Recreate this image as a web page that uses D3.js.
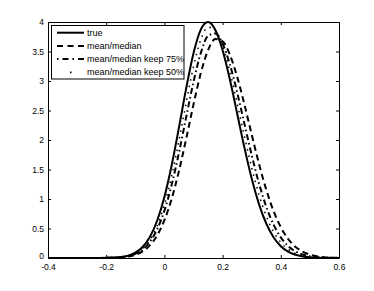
<!DOCTYPE html>
<html><head><meta charset="utf-8">
<script src="https://cdn.jsdelivr.net/npm/d3@7"></script>
<style>html,body{margin:0;padding:0;background:#fff;}svg{display:block;}</style>
</head><body>
<svg id="chart" width="374" height="291"></svg>
<script>
const xValues = [-0.4,-0.375,-0.35,-0.325,-0.3,-0.275,-0.25,-0.225,-0.2,-0.175,-0.15,-0.125,-0.1,-0.075,-0.05,-0.025,0,0.025,0.05,0.075,0.1,0.125,0.15,0.175,0.2,0.225,0.25,0.275,0.3,0.325,0.35,0.375,0.4,0.425,0.45,0.475,0.5,0.525,0.55,0.575,0.6];
const trueValues = [0,0,0,0,0,0,0.0002,0.0007,0.0023,0.0064,0.0167,0.040,0.090,0.186,0.356,0.631,1.035,1.572,2.211,2.879,3.470,3.871,3.999,3.865,3.522,3.025,2.450,1.871,1.346,0.914,0.585,0.352,0.200,0.108,0.054,0.026,0.012,0.005,0.002,0.001,0];
const meanMedianValues = [0,0,0,0,0,0,0.0002,0.0006,0.0016,0.0043,0.0106,0.0248,0.0543,0.111,0.213,0.382,0.640,1.004,1.474,2.024,2.603,3.130,3.523,3.710,3.671,3.446,3.073,2.602,2.093,1.598,1.159,0.798,0.522,0.324,0.191,0.107,0.057,0.029,0.014,0.006,0.003];
const keep75Values = [0,0,0,0,0,0,0.0002,0.0007,0.0020,0.0053,0.0134,0.0317,0.0697,0.143,0.273,0.485,0.803,1.240,1.784,2.391,2.985,3.474,3.765,3.807,3.632,3.281,2.807,2.274,1.744,1.266,0.871,0.567,0.350,0.204,0.113,0.059,0.029,0.014,0.006,0.003,0.001];
const keep50Values = [0,0,0,0,0,0,0.0002,0.0006,0.0019,0.0053,0.0137,0.0333,0.0749,0.156,0.302,0.542,0.902,1.391,1.989,2.638,3.244,3.699,3.911,3.856,3.591,3.159,2.626,2.062,1.531,1.073,0.711,0.445,0.264,0.147,0.078,0.039,0.018,0.008,0.003,0.001,0];
const seriesNames = ["true","mean/median","mean/median keep 75%","mean/median keep 50%"];
const xTicks = [-0.4,-0.2,0,0.2,0.4,0.6];
const xTickLabels = ["-0.4","-0.2","0","0.2","0.4","0.6"];
const yTicks = [0,0.5,1,1.5,2,2.5,3,3.5,4];
const yTickLabels = ["0","0.5","1","1.5","2","2.5","3","3.5","4"];

const svg = d3.select("#chart");
const L = 48, R = 339, T = 22, B = 258;
const x = d3.scaleLinear().domain([-0.4,0.6]).range([L,R]);
const y = d3.scaleLinear().domain([0,4]).range([B,T]);

const styles = [
  {dash:null, w:2},
  {dash:"6,4", w:2},
  {dash:"1.5,3,6,3", w:2},
  {dash:"1.5,5", w:1.5}
];
const seriesData = [trueValues, meanMedianValues, keep75Values, keep50Values];

const line = d3.line().x((d,i)=>x(xValues[i])).y(d=>y(d)).curve(d3.curveMonotoneX);

const fontFam = "'Liberation Sans', Arial, Helvetica, sans-serif";
function styleAxis(g){
  g.selectAll("path").attr("stroke","#000").attr("stroke-width",1);
  g.selectAll("line").attr("stroke","#000").attr("stroke-width",1);
  g.selectAll("text").attr("fill","#000").style("font-family",fontFam).style("font-size","8.5px");
}
const fmtX = d => xTickLabels[xTicks.indexOf(d)];
const fmtY = d => yTickLabels[yTicks.indexOf(d)];
svg.append("g").attr("transform",`translate(0,${B})`)
  .call(d3.axisBottom(x).tickValues(xTicks).tickFormat(fmtX).tickSizeInner(-3).tickSizeOuter(0).tickPadding(6)).call(styleAxis);
svg.append("g").attr("transform",`translate(0,${T})`)
  .call(d3.axisTop(x).tickValues(xTicks).tickFormat("").tickSizeInner(-3).tickSizeOuter(0)).call(styleAxis);
const yAxisG = svg.append("g").attr("transform",`translate(${L},0)`)
  .call(d3.axisLeft(y).tickValues(yTicks).tickFormat(fmtY).tickSizeInner(-3).tickSizeOuter(0).tickPadding(4)).call(styleAxis);
yAxisG.selectAll(".tick").filter(d=>d===0).select("text").attr("dy","0.1em");

svg.append("g").attr("transform",`translate(${R},0)`)
  .call(d3.axisRight(y).tickValues(yTicks).tickFormat("").tickSizeInner(-3).tickSizeOuter(0)).call(styleAxis);

const order = [1,2,3,0];
order.forEach(k=>{
  svg.append("path").datum(seriesData[k]).attr("d",line)
    .attr("fill","none").attr("stroke","#000").attr("stroke-width",styles[k].w)
    .attr("stroke-dasharray",styles[k].dash).attr("stroke-linejoin","round");
});

const lg = svg.append("g");
lg.append("rect").attr("x",51.5).attr("y",25.5).attr("width",132.5).attr("height",53.5)
  .attr("fill","#fff").attr("stroke","#000").attr("stroke-width",1);
const legDash = [null,"6,4.5","1.5,4,6,4","0 13 1.5 100"];
seriesNames.forEach((name,i)=>{
  const yy = 32.7 + i*13.2;
  lg.append("line").attr("x1",57).attr("x2",84).attr("y1",yy).attr("y2",yy)
    .attr("stroke","#000").attr("stroke-width",i===3?1.8:2).attr("stroke-dasharray",legDash[i]);
  lg.append("text").attr("x",87).attr("y",yy).attr("dy","0.35em").text(name)
    .style("font-family",fontFam).style("font-size","9px").attr("fill","#000");
});
</script>
</body></html>
